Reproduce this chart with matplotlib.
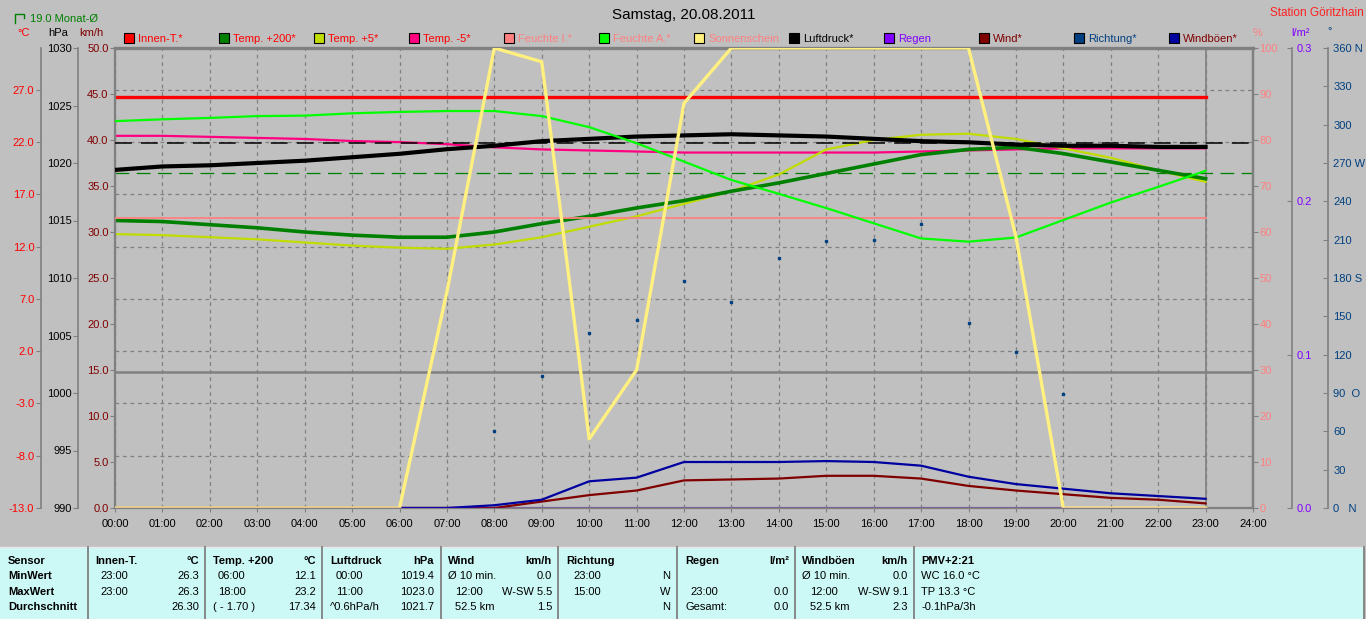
import matplotlib.pyplot as plt
from matplotlib.patches import Rectangle
from matplotlib.ticker import FormatStrFormatter

plt.rcParams['font.family'] = ['Liberation Sans', 'DejaVu Sans']
plt.rcParams['font.size'] = 8

W, H = 1366, 619
BG = '#c0c0c0'
GRAY = '#808080'

# hourly values 00:00 .. 23:00
hours = [0, 1, 2, 3, 4, 5, 6, 7, 8, 9, 10, 11, 12, 13, 14, 15, 16, 17, 18, 19, 20, 21, 22, 23]
tick_hours = list(range(25))
tick_labels = [f'{h:02d}:00' for h in tick_hours]

innen_t = [26.3, 26.3, 26.3, 26.3, 26.3, 26.3, 26.3, 26.3, 26.3, 26.3, 26.3, 26.3,
           26.3, 26.3, 26.3, 26.3, 26.3, 26.3, 26.3, 26.3, 26.3, 26.3, 26.3, 26.3]
temp_200 = [14.5, 14.4, 14.1, 13.8, 13.4, 13.1, 12.9, 12.9, 13.4, 14.2, 14.9, 15.7,
            16.4, 17.3, 18.1, 19.0, 19.9, 20.8, 21.3, 21.5, 20.9, 20.1, 19.3, 18.5]
temp_5 = [13.2, 13.1, 12.9, 12.7, 12.4, 12.1, 11.9, 11.8, 12.2, 12.9, 13.9, 14.9,
          16.1, 17.3, 18.9, 21.3, 22.2, 22.7, 22.8, 22.3, 21.4, 20.5, 19.3, 18.2]
temp_m5 = [22.6, 22.6, 22.5, 22.4, 22.3, 22.1, 22.0, 21.8, 21.5, 21.3, 21.2, 21.1,
           21.0, 21.0, 21.0, 21.0, 21.0, 21.1, 21.2, 21.3, 21.4, 21.4, 21.4, 21.4]
feuchte_i = [63.1, 63.1, 63.1, 63.1, 63.1, 63.1, 63.1, 63.1, 63.1, 63.1, 63.1, 63.1,
             63.1, 63.1, 63.1, 63.1, 63.1, 63.1, 63.1, 63.1, 63.1, 63.1, 63.1, 63.1]
feuchte_a = [84.1, 84.5, 84.8, 85.2, 85.3, 85.8, 86.1, 86.3, 86.3, 85.2, 82.8, 79.3,
             75.3, 71.3, 68.3, 65.2, 61.9, 58.6, 57.9, 58.8, 62.6, 66.4, 69.8, 73.3]
sunshine = [0, 0, 0, 0, 0, 0, 0, 47, 100, 97, 15, 30,
            88, 100, 100, 100, 100, 100, 100, 59, 0, 0, 0, 0]
pressure = [1019.4, 1019.7, 1019.8, 1020.0, 1020.2, 1020.5, 1020.8, 1021.2, 1021.5, 1021.9, 1022.1, 1022.3,
            1022.4, 1022.5, 1022.4, 1022.3, 1022.1, 1021.9, 1021.8, 1021.6, 1021.5, 1021.5, 1021.4, 1021.4]
rain = [0.0, 0.0, 0.0, 0.0, 0.0, 0.0, 0.0, 0.0, 0.0, 0.0, 0.0, 0.0,
        0.0, 0.0, 0.0, 0.0, 0.0, 0.0, 0.0, 0.0, 0.0, 0.0, 0.0, 0.0]
wind = [0.0, 0.0, 0.0, 0.0, 0.0, 0.0, 0.0, 0.0, 0.0, 0.7, 1.4, 1.9,
        3.0, 3.1, 3.2, 3.5, 3.5, 3.2, 2.4, 1.9, 1.5, 1.1, 0.9, 0.5]
gusts = [0.0, 0.0, 0.0, 0.0, 0.0, 0.0, 0.0, 0.0, 0.3, 0.9, 2.9, 3.3,
         5.0, 5.0, 5.0, 5.1, 5.0, 4.6, 3.4, 2.6, 2.1, 1.6, 1.3, 1.0]
dir_hours = [8, 9, 10, 11, 12, 13, 14, 15, 16, 17, 18, 19, 20]
direction = [60, 103, 137, 147, 178, 161, 196, 209, 210, 222, 145, 122, 89]

month_mean = 19.0
pressure_mean = 1021.7

temp_ticks = [-13, -8, -3, 2, 7, 12, 17, 22, 27]
kmh_ticks = [0, 5, 10, 15, 20, 25, 30, 35, 40, 45, 50]
hpa_ticks = [990, 995, 1000, 1005, 1010, 1015, 1020, 1025, 1030]
pct_ticks = [0, 10, 20, 30, 40, 50, 60, 70, 80, 90, 100]
rain_ticks = [0.0, 0.1, 0.2, 0.3]
dir_ticks = [0, 30, 60, 90, 120, 150, 180, 210, 240, 270, 300, 330, 360]
dir_labels = ['0   N', '30', '60', '90  O', '120', '150', '180 S', '210', '240', '270 W', '300', '330', '360 N']

legend_names = ['Innen-T.*', 'Temp. +200*', 'Temp. +5*', 'Temp. -5*', 'Feuchte I.*', 'Feuchte A.*',
                'Sonnenschein', 'Luftdruck*', 'Regen', 'Wind*', 'Richtung*', 'Windböen*']
legend_colors = ['#ff0000', '#008000', '#c0dc00', '#ff0080', '#ff8080', '#00ff00',
                 '#fff080', '#000000', '#8000ff', '#800000', '#004080', '#0000a0']
legend_text_colors = ['#ff0000', '#ff0000', '#ff0000', '#ff0000', '#ff8080', '#ff8080',
                      '#ff8080', '#000000', '#8000ff', '#800000', '#004080', '#800000']

fig = plt.figure(figsize=(W / 100, H / 100), dpi=100, facecolor=BG)
rect = [115 / W, (H - 508) / H, (1253 - 115) / W, 460 / H]

# base axis: temperature (°C), carries background + grid
ax_c = fig.add_axes(rect)
ax_c.set_facecolor(BG)
ax_c.set_xlim(0, 24)
ax_c.set_ylim(-13, 31)
ax_c.set_xticks(tick_hours)
ax_c.set_xticklabels(tick_labels)
ax_c.set_yticks(temp_ticks)
ax_c.yaxis.set_major_formatter(FormatStrFormatter('%.1f'))
ax_c.grid(True, color=GRAY, linestyle=(0, (3, 3)), linewidth=0.9)
ax_c.tick_params(axis='x', colors=GRAY, labelcolor='black', length=3, pad=5, labelsize=8)
ax_c.tick_params(axis='y', colors=GRAY, labelcolor='#ff0000', length=3.4, pad=1.2, labelsize=8)
for s in ax_c.spines.values():
    s.set_color(GRAY)
    s.set_linewidth(1.2)
ax_c.spines['top'].set_linewidth(2.4)
ax_c.spines['bottom'].set_linewidth(1.6)
ax_c.spines['right'].set_linewidth(1.6)
ax_c.spines['left'].set_position(('outward', 53.5))
ax_c.axhline(0, color=GRAY, lw=1.8, zorder=1.5)
ax_c.axvline(23, color=GRAY, lw=1.2, zorder=1.5)
ax_c.axhline(month_mean, color='#008000', lw=0.9, dashes=(11, 6))


def twin(ylim, ticks, side, offset, labelcolor, inward=False):
    a = ax_c.twinx()
    a.set_ylim(*ylim)
    a.set_yticks(ticks)
    for s in a.spines.values():
        s.set_visible(False)
    sp = a.spines[side]
    sp.set_visible(True)
    sp.set_color(GRAY)
    sp.set_linewidth(1.2)
    if offset:
        sp.set_position(('outward', offset))
    if side == 'left':
        a.yaxis.tick_left()
    else:
        a.yaxis.tick_right()
    a.tick_params(axis='y', colors=GRAY, labelcolor=labelcolor, length=3.4,
                  pad=1.2 if not inward else 3.5, labelsize=8,
                  direction='in' if inward else 'out')
    return a


ax_k = twin((0, 50), kmh_ticks, 'left', 0, '#800000')
ax_k.spines['left'].set_linewidth(1.6)
ax_k.yaxis.set_major_formatter(FormatStrFormatter('%.1f'))
ax_p = twin((990, 1030), hpa_ticks, 'left', 26.8, 'black')
ax_h = twin((0, 100), pct_ticks, 'right', 0, '#ff8080')
ax_h.spines['right'].set_linewidth(1.6)
ax_r = twin((0, 0.3), rain_ticks, 'right', 27.9, '#8000ff', inward=True)
ax_r.yaxis.set_major_formatter(FormatStrFormatter('%.1f'))
ax_d = twin((0, 360), dir_ticks, 'right', 54.2, '#004080', inward=True)
ax_d.set_yticklabels(dir_labels)

# temperatures
ax_c.plot(hours, temp_m5, color='#ff0080', lw=1.6)
ax_c.plot(hours, temp_5, color='#c0dc00', lw=1.6)
ax_c.plot(hours, temp_200, color='#008000', lw=2.6)
ax_c.plot(hours, innen_t, color='#ff0000', lw=2.4)

# wind
ax_k.plot(hours, wind, color='#800000', lw=1.6)
ax_k.plot(hours, gusts, color='#0000a0', lw=1.6)

# pressure
ax_p.axhline(pressure_mean, color='black', lw=1.1, dashes=(11, 6))
ax_p.plot(hours, pressure, color='black', lw=3.0)

# humidity + sunshine
ax_h.plot(hours, feuchte_i, color='#ff8080', lw=1.3)
ax_h.plot(hours, feuchte_a, color='#00ff00', lw=1.6)
ax_h.plot(hours, sunshine, color='#fff080', lw=2.4)

# rain and direction
ax_r.plot(hours, rain, color='#8000ff', lw=1)
ax_d.plot(dir_hours, direction, 's', color='#004080', ms=1.8, lw=0)

# overlay for header + table, pixel coordinates
ax_o = fig.add_axes([0, 0, 1, 1])
ax_o.set_xlim(0, W)
ax_o.set_ylim(H, 0)
ax_o.axis('off')

ax_o.plot([15, 15, 24, 24], [23, 14, 14, 18], color='#008000', lw=1)
ax_o.text(30, 19, '19.0 Monat-Ø', color='#008000', va='center', fontsize=8)
ax_o.text(24, 33, '°C', color='#ff0000', ha='center', va='center')
ax_o.text(58, 33, 'hPa', color='black', ha='center', va='center')
ax_o.text(91.5, 33, 'km/h', color='#800000', ha='center', va='center')
ax_o.text(1258, 33, '%', color='#ff8080', ha='center', va='center')
ax_o.text(1300, 33, 'l/m²', color='#8000ff', ha='center', va='center')
ax_o.text(1330, 31, '°', color='#004080', ha='center', va='center')
ax_o.text(684, 15, 'Samstag, 20.08.2011', ha='center', va='center', fontsize=11)
ax_o.text(1364, 13, 'Station Göritzhain', color='#ff2020', ha='right', va='center', fontsize=8.5)

for i, name in enumerate(legend_names):
    x0 = 124 + 95 * i
    ax_o.add_patch(Rectangle((x0, 33), 10, 10, facecolor=legend_colors[i], edgecolor='black', lw=0.8))
    ax_o.text(x0 + 14, 38.5, name, color=legend_text_colors[i], va='center', fontsize=8)

# statistics table
ax_o.add_patch(Rectangle((0, 547), 1364, 72, facecolor='#ccf8f6', edgecolor='none'))
ax_o.plot([0, 1364], [546.5, 546.5], color='#e8e8e8', lw=1)
for x in [88, 205, 322, 441, 558, 677, 795, 914, 1364]:
    ax_o.plot([x, x], [547, 619], color=GRAY, lw=1.3)

row_y = [561, 576, 592, 607]
for y, s in zip(row_y, ['Sensor', 'MinWert', 'MaxWert', 'Durchschnitt']):
    ax_o.text(8, y, s, va='center', fontweight='bold')

# (header x, value x, right x, header, unit, rows)
table_cols = [
    (95, 100, 199, 'Innen-T.', '°C', [('23:00', '26.3'), ('23:00', '26.3'), ('', '26.30')]),
    (213, 218, 316, 'Temp. +200', '°C', [('06:00', '12.1'), ('18:00', '23.2'), ('( - 1.70 )', '17.34')]),
    (330, 336, 434, 'Luftdruck', 'hPa', [('00:00', '1019.4'), ('11:00', '1023.0'), ('^0.6hPa/h', '1021.7')]),
    (448, 455, 552, 'Wind', 'km/h', [('Ø 10 min.', '0.0'), ('12:00', 'W-SW 5.5'), ('52.5 km', '1.5')]),
    (566, 573, 670, 'Richtung', '', [('23:00', 'N'), ('15:00', 'W'), ('', 'N')]),
    (685, 690, 789, 'Regen', 'l/m²', [('', ''), ('23:00', '0.0'), ('Gesamt:', '0.0')]),
    (802, 810, 908, 'Windböen', 'km/h', [('Ø 10 min.', '0.0'), ('12:00', 'W-SW 9.1'), ('52.5 km', '2.3')]),
    (921, 921, 1360, 'PMV+2:21', '', [('WC 16.0 °C', ''), ('TP 13.3 °C', ''), ('-0.1hPa/3h', '')]),
]
for hx, vx, rx, head, unit, rows in table_cols:
    ax_o.text(hx, row_y[0], head, va='center', fontweight='bold')
    ax_o.text(rx, row_y[0], unit, va='center', ha='right', fontweight='bold')
    for y, (left, right) in zip(row_y[1:], rows):
        lx = hx if left.startswith(('Ø', '(', '^', 'G', 'W', 'T', '-')) else vx
        ax_o.text(lx, y, left, va='center')
        ax_o.text(rx, y, right, va='center', ha='right')

fig.savefig('out.png', dpi=100, facecolor=BG)
